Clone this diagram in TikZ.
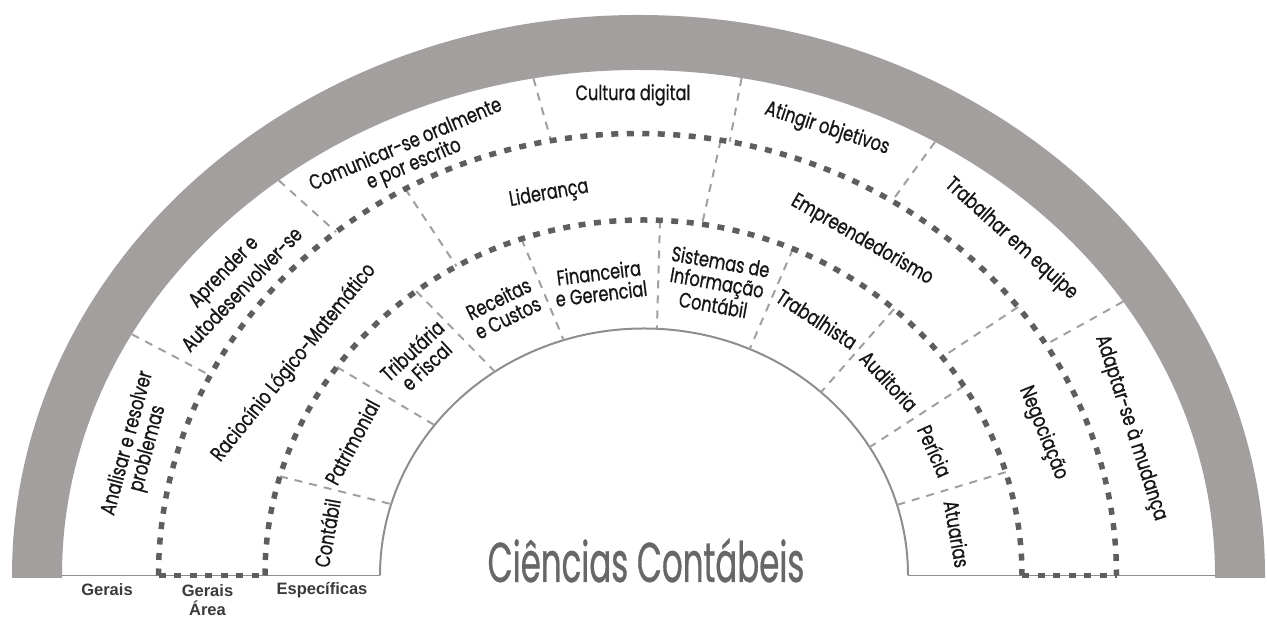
\documentclass[tikz,border=0pt]{standalone}
\usepackage{fontspec}
\newfontfamily\labfont[FakeStretch=0.77, FakeBold=0.8]{Poppins}
\newfontfamily\titfont[FakeStretch=0.58, FakeBold=0.6]{Poppins}
\newfontfamily\botfont{Liberation Sans}
\definecolor{bandgray}{HTML}{A29F9E}
\definecolor{linegray}{HTML}{8E8E8E}
\definecolor{sepgray}{HTML}{A0A0A0}
\definecolor{dotgray}{HTML}{5E5E5E}
\definecolor{labcol}{HTML}{161616}
\definecolor{botcol}{HTML}{3A3A3A}
\definecolor{titcol}{HTML}{676767}
\begin{document}
\begin{tikzpicture}[x=1pt,y=1pt,
  baseline/.style={draw=linegray, line width=1.5pt},
  innerarc/.style={draw=linegray, line width=2pt},
  sepline/.style={draw=sepgray, line width=2pt, dash pattern=on 8pt off 7pt},
  ring/.style={draw=dotgray, line width=5.5pt, dash pattern=on 7pt off 8.5pt},
  lab/.style={font=\labfont\fontsize{21}{21}\selectfont, text=labcol, align=center, inner sep=0pt},
  bot/.style={font=\botfont\bfseries\fontsize{16.5}{19}\selectfont, text=botcol, align=center, inner sep=0pt},
  title/.style={font=\titfont\fontsize{56}{60}\selectfont, text=titcol, inner sep=0pt}]
\useasboundingbox (0,0) rectangle (1267,617);
% centres of the arcs
\coordinate (cG) at (638.5,41.5);
\coordinate (cO) at (637.5,41.5);
\coordinate (cI) at (643.5,41.5);
\coordinate (cL) at (644,41.5);
% gray band
\fill[bandgray] (12,39) -- (12,41.5) arc[start angle=180, end angle=0, x radius=626.5, y radius=560.5]
  -- (1265,39) -- (1215,39) -- (1215,41.5) arc[start angle=0, end angle=180, x radius=576.5, y radius=505.5]
  -- (62,39) -- cycle;
% base lines and inner arc
\coordinate (bl1) at (62,41.5);
\coordinate (bl2) at (380,41.5);
\coordinate (br1) at (908,41.5);
\coordinate (br2) at (1215,41.5);
\draw[baseline] (bl1) -- (bl2);
\draw[baseline] (br1) -- (br2);
\draw[innerarc] (bl2) arc[start angle=180, end angle=0, x radius=264, y radius=247];
% separators, outer ring
\foreach \n/\a/\b in {1/151.5/153.1, 2/128.6/129.0, 3/100.5/100.4, 4/79.7/78.9, 5/59.05/57.9, 6/32.8/31.5}{
  \path (cG) ++(\a:576.5pt and 505.5pt) coordinate (g\n);
  \path (cO) ++(\b:479pt and 442pt) coordinate (o\n);
  \draw[sepline] (g\n) -- (o\n);
}
% separators, middle ring
\foreach \n/\a/\b in {1/119.0/119.6, 2/80.0/81.1, 3/37.4/37.9}{
  \path (cO) ++(\a:479pt and 442pt) coordinate (mo\n);
  \path (cI) ++(\b:378.5pt and 355.5pt) coordinate (mi\n);
  \draw[sepline] (mo\n) -- (mi\n);
}
% separators, inner ring
\foreach \n/\a/\b in {1/163.8/163.2, 2/144.1/142.5, 3/126.9/124.4, 4/108.8/107.7, 5/87.5/87.2, 6/66.75/66.4, 7/48.55/47.9, 8/32.2/31.3, 9/16.9/16.6}{
  \path (cI) ++(\a:378.5pt and 355.5pt) coordinate (ii\n);
  \path (cL) ++(\b:264pt and 247pt) coordinate (il\n);
  \draw[sepline] (ii\n) -- (il\n);
}
% dotted rings
\coordinate (ol) at (158.5,41.5);
\coordinate (il) at (265,41.5);
\coordinate (ir) at (1022,41.5);
\coordinate (or) at (1116.5,41.5);
\draw[ring] (ol) arc[start angle=180, end angle=0, x radius=479, y radius=442];
\draw[ring] (il) arc[start angle=180, end angle=0, x radius=378.5, y radius=355.5];
\draw[ring] (ol) -- (il);
\draw[ring] (ir) -- (or);
% outer ring labels
\node[lab, rotate=75] (t1) at (138,171) {Analisar e resolver\\problemas};
\node[lab, rotate=46, font=\labfont\fontsize{21}{26}\selectfont] (t2) at (232,337) {Aprender e\\Autodesenvolver-se};
\node[lab, rotate=23] (t3) at (410,462) {Comunicar-se oralmente\\e por escrito};
\node[lab] (t4) at (633,522) {Cultura digital};
\node[lab, rotate=-18] (t5) at (827,488) {Atingir objetivos};
\node[lab, rotate=-42] (t6) at (1011,378) {Trabalhar em equipe};
\node[lab, rotate=-72] (t7) at (1131,189) {Adaptar-se à mudança};
% middle ring labels
\node[lab, rotate=51] (t8) at (294,254) {Raciocínio Lógico-Matemático};
\node[lab, rotate=10] (t9) at (549,423) {Liderança};
\node[lab, rotate=-30] (t10) at (862,377) {Empreendedorismo};
\node[lab, rotate=-68] (t11) at (1043,184) {Negociação};
% inner ring labels
\node[lab, rotate=80] (t12) at (327,84) {Contábil};
\node[lab, rotate=62] (t13) at (352,175) {Patrimonial};
\node[lab, rotate=43] (t14) at (419,259) {Tributária\\e Fiscal};
\node[lab, rotate=26] (t15) at (503,309) {Receitas\\e Custos};
\node[lab, rotate=7] (t16) at (600,334) {Financeira\\e Gerencial};
\node[lab, rotate=-10] (t17) at (717,334) {Sistemas de\\Informação\\Contábil};
\node[lab, rotate=-33] (t18) at (817,298) {Trabalhista};
\node[lab, rotate=-47] (t19) at (889,236) {Auditoria};
\node[lab, rotate=-66] (t20) at (935,166) {Perícia};
\node[lab, rotate=-80] (t21) at (957,83) {Atuarias};
% bottom labels
\node[bot] (b1) at (107,27) {Gerais};
\node[bot] (b2) at (207.5,17) {Gerais\\Área};
\node[bot] (b3) at (322,27) {Específicas};
% title
\node[title, anchor=base] (tt) at (646,35) {Ciências Contábeis};
\end{tikzpicture}
\end{document}
